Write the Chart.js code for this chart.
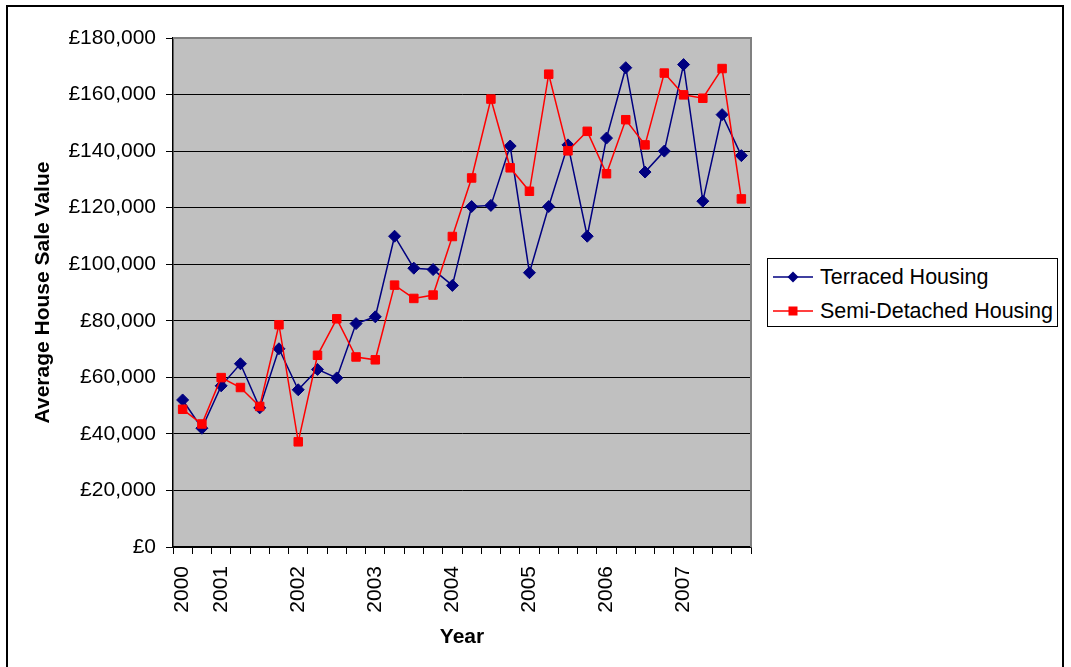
<!DOCTYPE html>
<html>
<head>
<meta charset="utf-8">
<script src="https://cdn.jsdelivr.net/npm/chart.js@4.4.0/dist/chart.umd.min.js"></script>
<style>
  html, body { margin: 0; padding: 0; background: #fff; overflow: hidden; }
  #wrap { position: relative; width: 1071px; height: 667px; }
  #frame { position: absolute; left: 6px; top: 5px; width: 1058px; height: 700px; border: 2px solid #000; box-sizing: border-box; pointer-events: none; }
  #legend { position: absolute; left: 767px; top: 258px; width: 291px; height: 69px; border: 1px solid #000; box-sizing: border-box; background: #fff; font: 21.5px "Liberation Sans", Arial, sans-serif; color: #000; }
  .item { position: absolute; left: 5px; height: 30px; display: flex; align-items: center; white-space: nowrap; }
  .item svg { margin-right: 7px; }
</style>
</head>
<body>
<div id="wrap">
  <canvas id="chart"></canvas>
  <div id="legend"></div>
  <div id="frame"></div>
</div>
<script>
// quarterly categories, only some carry a year label
const quarterLabels = ["2000", "", "2001", "", "", "", "2002", "", "", "", "2003", "", "", "", "2004", "", "", "", "2005", "", "", "", "2006", "", "", "", "2007", "", "", ""];
const seriesNames = ["Terraced Housing", "Semi-Detached Housing"];
const terraced = [52000, 42000, 57000, 64800, 49200, 70100, 55600, 62800, 59800, 79000, 81400, 109900, 98600, 98100, 92500, 120400, 120800, 141800, 97000, 120400, 142200, 109900, 144600, 169500, 132600, 140000, 170600, 122300, 152900, 138400];
const semiDetached = [48700, 43500, 59900, 56400, 49700, 78600, 37200, 67800, 80700, 67200, 66200, 92600, 87900, 89100, 109800, 130500, 158400, 134100, 125800, 167200, 140100, 147000, 132000, 151100, 142200, 167600, 159900, 158700, 169200, 123100];
const seriesColors = ["#000080", "#ff0000"];
const seriesMarkers = ["rectRot", "rect"];

Chart.defaults.font.family = '"Liberation Sans", Arial, sans-serif';
Chart.defaults.color = "#000";

const plotArea = {
    id: "plotArea",
    beforeDraw(chart) {
        const { ctx, chartArea: a } = chart;
        ctx.save();
        ctx.fillStyle = "#c0c0c0";
        ctx.fillRect(a.left, a.top, a.right - a.left, a.bottom - a.top);
        ctx.restore();
    },
    beforeDatasetsDraw(chart) {
        const { ctx, chartArea: a } = chart;
        ctx.save();
        ctx.strokeStyle = "#808080";
        ctx.lineWidth = 2;
        ctx.beginPath();
        ctx.moveTo(a.left, a.top);
        ctx.lineTo(a.right, a.top);
        ctx.lineTo(a.right, a.bottom);
        ctx.stroke();
        ctx.restore();
    }
};

const ctx = document.getElementById("chart");

const config = {
    type: "line",
    data: {
        labels: quarterLabels,
        datasets: [{
            label: seriesNames[0],
            data: terraced,
            borderColor: seriesColors[0],
            backgroundColor: seriesColors[0],
            borderWidth: 1.5,
            pointStyle: seriesMarkers[0],
            pointRadius: 6,
            pointBorderWidth: 1,
            order: 1
        }, {
            label: seriesNames[1],
            data: semiDetached,
            borderColor: seriesColors[1],
            backgroundColor: seriesColors[1],
            borderWidth: 1.5,
            pointStyle: seriesMarkers[1],
            pointRadius: 6,
            pointBorderWidth: 1,
            order: 0
        }]
    },
    options: {
        responsive: true,
        maintainAspectRatio: false,
        animation: false,
        layout: { padding: { top: 38, right: 320, left: 0, bottom: 0 } },
        plugins: {
            legend: { display: false },
            tooltip: { enabled: false }
        },
        scales: {
            x: {
                offset: true,
                afterFit: (s) => { s.height = 120; },
                grid: { offset: true, drawOnChartArea: false, tickLength: 7, color: "#000" },
                border: { color: "#000", width: 1.5 },
                ticks: { autoSkip: false, minRotation: 90, maxRotation: 90, padding: 12, font: { size: 21 } },
                title: { display: true, text: "Year", font: { size: 21, weight: "bold" }, padding: { top: 0, bottom: 17 } }
            },
            y: {
                min: 0,
                max: 180000,
                afterFit: (s) => { s.width = 173; },
                grid: {
                    color: (c) => c.tick && c.tick.value === 180000 ? "#808080" : "#000",
                    tickColor: "#000",
                    tickLength: 7
                },
                border: { color: "#000", width: 1.5 },
                ticks: {
                    stepSize: 20000,
                    padding: 10,
                    font: { size: 21 },
                    callback: (v) => "£" + v.toLocaleString("en-GB")
                },
                title: { display: true, text: "Average House Sale Value", font: { size: 21, weight: "bold" }, padding: { top: 31, bottom: 0 } }
            }
        }
    },
    plugins: [plotArea]
};

const chartLine = new Chart(ctx, config);

// legend box drawn from the dataset definitions
const legend = document.getElementById("legend");
chartLine.data.datasets.forEach((ds, i) => {
    const marker = ds.pointStyle === "rect"
        ? '<rect x="15.5" y="5.5" width="9" height="9" fill="' + ds.borderColor + '"/>'
        : '<polygon points="20,4.5 25.5,10 20,15.5 14.5,10" fill="' + ds.borderColor + '"/>';
    const item = document.createElement("div");
    item.className = "item";
    item.style.top = (i === 0 ? 3 : 37) + "px";
    item.innerHTML = '<svg width="40" height="20"><line x1="0" y1="10" x2="40" y2="10" stroke="' + ds.borderColor + '" stroke-width="1.5"/>' + marker + '</svg>' + ds.label;
    legend.appendChild(item);
});
</script>
</body>
</html>
